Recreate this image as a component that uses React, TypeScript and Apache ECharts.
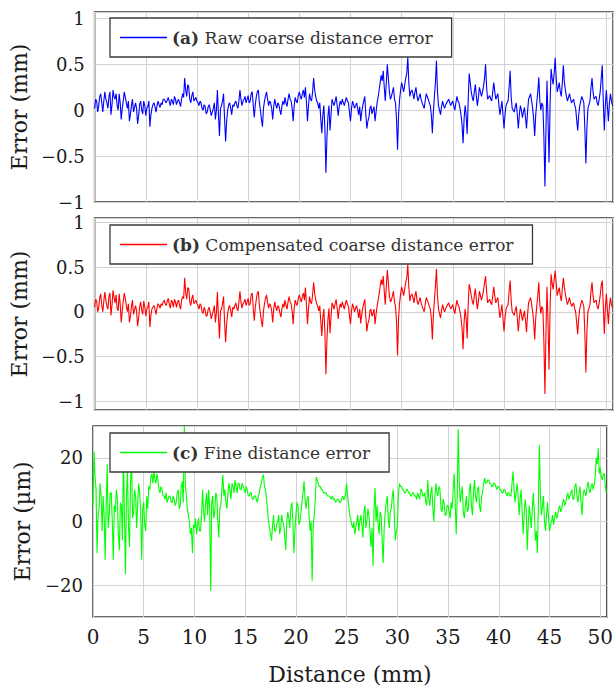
import React, { useEffect, useRef } from "react";
import * as echarts from "echarts";

// Sampling step of the distance axis (mm)
const STEP_MM = 0.1;

// (a) Raw coarse distance error (mm), one value every STEP_MM from 0 mm (10 per row = 1 mm)
const rawCoarse = [
  0.02, 0.12, 0.10, -0.02, 0.05, 0.15, 0.18, 0.08, -0.02, 0.10,
  0.20, 0.12, 0.08, 0.02, 0.15, 0.20, -0.05, 0.06, 0.22, 0.15,
  0.12, 0.18, 0.05, 0.00, 0.18, 0.08, -0.10, 0.02, 0.10, 0.20,
  0.14, 0.08, 0.02, 0.10, -0.12, -0.04, 0.05, 0.12, -0.02, 0.03,
  0.08, 0.02, -0.15, -0.06, 0.06, 0.10, 0.00, -0.04, 0.10, 0.05,
  -0.06, 0.02, 0.04, 0.10, -0.18, -0.05, 0.02, 0.06, 0.08, 0.04,
  -0.02, 0.05, 0.10, 0.06, 0.03, 0.08, 0.06, 0.12, 0.12, 0.10,
  0.08, 0.11, 0.14, 0.09, 0.05, 0.12, 0.10, 0.06, 0.15, 0.12,
  0.06, 0.10, 0.12, 0.08, 0.04, 0.12, 0.18, 0.14, 0.35, 0.22,
  0.15, 0.28, 0.25, 0.12, 0.08, 0.16, 0.20, 0.10, 0.12, 0.14,
  0.10, 0.08, 0.05, 0.10, 0.08, 0.02, 0.00, 0.06, 0.04, -0.04,
  -0.02, 0.04, 0.06, 0.00, -0.06, -0.02, 0.02, 0.08, -0.10, 0.00,
  0.22, -0.05, -0.28, 0.02, 0.05, 0.10, 0.18, -0.10, -0.34, -0.12,
  0.00, 0.06, 0.08, 0.02, -0.05, 0.06, 0.04, 0.08, 0.10, 0.05,
  0.02, 0.10, 0.22, 0.12, 0.05, 0.10, 0.12, 0.15, 0.08, 0.12,
  0.16, 0.08, 0.10, 0.18, 0.20, 0.05, -0.08, 0.06, 0.15, 0.20,
  0.22, 0.08, 0.00, -0.10, -0.18, 0.02, 0.10, 0.16, 0.20, 0.12,
  0.05, 0.10, 0.08, 0.02, -0.10, 0.04, 0.12, 0.06, 0.02, 0.08,
  0.06, 0.00, -0.05, 0.04, 0.10, 0.06, 0.14, 0.08, 0.04, 0.12,
  0.18, 0.12, 0.10, 0.02, -0.12, 0.05, 0.14, 0.10, 0.08, 0.16,
  0.20, 0.15, 0.12, 0.18, 0.22, 0.14, 0.25, 0.08, -0.12, 0.05,
  0.18, 0.12, 0.10, 0.20, 0.35, 0.22, 0.15, 0.10, 0.08, 0.02,
  0.08, -0.10, -0.25, -0.05, 0.05, -0.20, -0.68, -0.30, -0.06, 0.05,
  -0.22, -0.05, 0.12, 0.08, 0.05, 0.10, 0.15, 0.05, -0.06, 0.04,
  0.10, 0.06, 0.12, 0.08, 0.05, 0.10, 0.14, 0.10, 0.08, -0.02,
  -0.12, 0.02, 0.10, 0.06, 0.02, 0.05, 0.08, 0.02, -0.05, 0.04,
  -0.12, -0.02, 0.05, 0.10, 0.15, -0.05, -0.20, -0.12, -0.08, 0.02,
  0.05, -0.04, 0.00, 0.04, -0.12, -0.02, 0.08, 0.14, 0.22, 0.30,
  0.38, 0.32, 0.43, 0.25, 0.10, 0.30, 0.50, 0.35, 0.20, 0.12,
  0.15, 0.20, 0.25, 0.12, 0.08, -0.10, -0.43, -0.05, 0.12, 0.22,
  0.30, 0.25, 0.20, 0.28, 0.35, 0.40, 0.58, 0.30, 0.15, 0.20,
  0.22, 0.18, 0.12, 0.20, 0.25, 0.15, 0.10, 0.14, 0.18, 0.12,
  0.08, 0.05, 0.02, 0.10, 0.18, 0.15, 0.12, 0.08, 0.05, -0.05,
  -0.25, -0.02, 0.15, 0.30, 0.54, 0.20, 0.05, 0.00, -0.05, 0.04,
  0.10, 0.05, 0.02, 0.06, 0.08, 0.10, 0.12, 0.08, 0.05, 0.08,
  0.10, 0.04, 0.00, 0.08, 0.15, 0.10, 0.08, 0.02, -0.05, -0.15,
  -0.36, -0.10, 0.05, -0.05, -0.26, 0.10, 0.40, 0.30, 0.20, 0.14,
  0.10, 0.20, 0.28, 0.15, 0.05, 0.14, 0.25, 0.20, 0.15, 0.20,
  0.26, 0.35, 0.50, 0.25, 0.12, 0.14, 0.16, 0.12, 0.10, 0.20,
  0.30, 0.20, 0.12, 0.15, 0.18, 0.06, -0.05, 0.02, 0.10, -0.05,
  -0.20, -0.05, 0.05, 0.08, 0.10, 0.25, 0.43, 0.15, 0.02, 0.00,
  -0.02, 0.04, 0.08, -0.05, -0.20, -0.05, 0.05, 0.00, -0.08, -0.02,
  0.03, -0.08, -0.20, -0.02, 0.12, 0.15, 0.18, 0.10, 0.02, -0.10,
  -0.28, -0.05, 0.08, 0.20, 0.36, 0.10, 0.00, 0.08, 0.05, -0.30,
  -0.83, -0.20, 0.32, -0.10, -0.57, 0.05, 0.45, 0.35, 0.28, 0.40,
  0.57, 0.35, 0.20, 0.25, 0.30, 0.20, 0.15, 0.30, 0.49, 0.30,
  0.22, 0.15, 0.10, 0.14, 0.18, 0.12, 0.08, 0.10, 0.12, 0.06,
  0.02, -0.10, -0.22, -0.05, 0.05, 0.10, 0.15, 0.12, 0.08, -0.20,
  -0.58, -0.20, 0.02, 0.06, 0.10, 0.25, 0.35, 0.20, 0.12, 0.14,
  0.15, 0.08, 0.05, 0.12, 0.20, 0.35, 0.49, 0.10, -0.22, 0.05,
  0.22, 0.05, -0.12, 0.08, 0.18, 0.10, 0.05,
];

// (b) Compensated coarse distance error (mm)
const compCoarse = [
  0.05, 0.14, 0.12, 0.00, 0.04, 0.16, 0.20, 0.07, 0.00, 0.12,
  0.22, 0.13, 0.06, 0.03, 0.17, 0.21, -0.04, 0.07, 0.24, 0.16,
  0.10, 0.19, 0.04, 0.01, 0.20, 0.09, -0.12, 0.01, 0.12, 0.21,
  0.15, 0.07, 0.00, 0.09, -0.12, -0.05, 0.06, 0.13, -0.03, 0.02,
  0.07, 0.01, -0.16, -0.07, 0.05, 0.11, 0.02, -0.03, 0.12, 0.06,
  -0.05, 0.03, 0.05, 0.11, -0.17, -0.04, 0.03, 0.05, 0.07, 0.03,
  -0.03, 0.04, 0.09, 0.07, 0.04, 0.09, 0.07, 0.11, 0.13, 0.09,
  0.07, 0.12, 0.15, 0.08, 0.04, 0.13, 0.11, 0.05, 0.14, 0.11,
  0.05, 0.11, 0.13, 0.07, 0.03, 0.13, 0.17, 0.15, 0.38, 0.21,
  0.14, 0.27, 0.26, 0.11, 0.07, 0.15, 0.19, 0.09, 0.11, 0.13,
  0.09, 0.07, 0.03, 0.09, 0.07, 0.00, -0.02, 0.05, 0.02, -0.05,
  -0.04, 0.03, 0.05, -0.01, -0.08, -0.03, 0.01, 0.07, -0.12, -0.01,
  0.22, -0.06, -0.30, 0.01, 0.03, 0.09, 0.17, -0.12, -0.34, -0.13,
  -0.02, 0.05, 0.07, 0.01, -0.06, 0.05, 0.03, 0.07, 0.10, 0.04,
  0.01, 0.11, 0.23, 0.11, 0.04, 0.09, 0.11, 0.14, 0.07, 0.11,
  0.15, 0.07, 0.09, 0.19, 0.21, 0.04, -0.10, 0.05, 0.14, 0.21,
  0.23, 0.07, -0.02, -0.11, -0.17, 0.01, 0.09, 0.15, 0.19, 0.11,
  0.04, 0.09, 0.07, 0.01, -0.12, 0.03, 0.11, 0.05, 0.01, 0.07,
  0.05, -0.01, -0.06, 0.03, 0.09, 0.05, 0.13, 0.07, 0.03, 0.11,
  0.17, 0.11, 0.09, 0.01, -0.14, 0.04, 0.13, 0.09, 0.07, 0.15,
  0.19, 0.14, 0.11, 0.17, 0.21, 0.13, 0.27, 0.07, -0.14, 0.04,
  0.17, 0.11, 0.09, 0.19, 0.33, 0.21, 0.14, 0.09, 0.06, 0.01,
  0.07, -0.11, -0.27, -0.06, 0.03, -0.22, -0.70, -0.32, -0.08, 0.04,
  -0.24, -0.06, 0.10, 0.07, 0.03, 0.09, 0.14, 0.04, -0.08, 0.03,
  0.09, 0.05, 0.11, 0.07, 0.03, 0.09, 0.13, 0.09, 0.06, -0.04,
  -0.14, 0.01, 0.09, 0.05, 0.00, 0.04, 0.07, 0.01, -0.07, 0.03,
  -0.13, -0.03, 0.04, 0.09, 0.14, -0.06, -0.22, -0.13, -0.10, 0.01,
  0.03, -0.05, -0.02, 0.03, -0.14, -0.03, 0.06, 0.13, 0.20, 0.28,
  0.36, 0.30, 0.40, 0.23, 0.08, 0.28, 0.47, 0.33, 0.18, 0.11,
  0.13, 0.18, 0.23, 0.11, 0.06, -0.12, -0.49, -0.07, 0.10, 0.20,
  0.28, 0.23, 0.18, 0.26, 0.33, 0.38, 0.53, 0.28, 0.12, 0.18,
  0.20, 0.16, 0.10, 0.18, 0.23, 0.13, 0.08, 0.12, 0.16, 0.10,
  0.06, 0.03, 0.00, 0.08, 0.16, 0.13, 0.10, 0.06, 0.03, -0.07,
  -0.31, -0.04, 0.13, 0.28, 0.48, 0.18, 0.03, -0.02, -0.07, 0.02,
  0.08, 0.03, 0.00, 0.04, 0.06, 0.08, 0.10, 0.06, 0.03, 0.06,
  0.08, 0.02, -0.02, 0.06, 0.13, 0.08, 0.06, 0.00, -0.07, -0.18,
  -0.42, -0.12, 0.03, -0.07, -0.30, 0.08, 0.31, 0.26, 0.18, 0.12,
  0.08, 0.18, 0.26, 0.13, 0.03, 0.12, 0.23, 0.18, 0.13, 0.18,
  0.24, 0.33, 0.40, 0.23, 0.10, 0.12, 0.14, 0.10, 0.08, 0.18,
  0.28, 0.18, 0.10, 0.13, 0.16, 0.04, -0.07, 0.00, 0.08, -0.07,
  -0.22, -0.07, 0.03, 0.06, 0.08, 0.23, 0.35, 0.13, 0.00, -0.02,
  -0.04, 0.02, 0.06, -0.07, -0.22, -0.07, 0.03, -0.02, -0.10, -0.04,
  0.01, -0.10, -0.23, -0.04, 0.10, 0.13, 0.16, 0.08, 0.00, -0.12,
  -0.31, -0.07, 0.06, 0.18, 0.33, 0.08, -0.02, 0.06, 0.03, -0.35,
  -0.92, -0.22, 0.28, -0.12, -0.65, 0.03, 0.42, 0.32, 0.25, 0.36,
  0.46, 0.32, 0.18, 0.23, 0.27, 0.18, 0.12, 0.26, 0.38, 0.27,
  0.20, 0.13, 0.08, 0.12, 0.16, 0.10, 0.06, 0.08, 0.10, 0.04,
  0.00, -0.12, -0.25, -0.07, 0.03, 0.08, 0.13, 0.10, 0.06, -0.24,
  -0.68, -0.23, 0.00, 0.04, 0.08, 0.23, 0.33, 0.18, 0.10, 0.12,
  0.13, 0.06, 0.03, 0.10, 0.18, 0.30, 0.35, 0.08, -0.25, 0.03,
  0.20, 0.03, -0.14, 0.06, 0.16, 0.08, 0.04,
];

// (c) Fine distance error (µm)
const fineErr = [
  5, 22, 14, 10, -10, 2, 4, 12, 8, -3,
  8, 2, -12, 5, 18, -2, 2, 9, 9, 0,
  -12, 5, 3, 10, 7, -4, -9, 6, 5, -6,
  23, 2, -16.6, 8, 16, -2, -8, 12, 20, 1,
  3, 10, 8, -2, 5, 12, 9, 3, -12, 4,
  6, -1, -3, 8, 4, 11, 10, 14, 15, 12,
  16, 13, 12, 15, 13, 10, 9, 11, 10, 8,
  8, 7, 9, 6, 7, 8, 8, 6, 6, 8,
  7, 5, 6, 9, 10, 4, 5, 11, 12.6, 6,
  30, 12, 8, 4, 2, 0, -4, -2, -10, -1,
  -2, 1, -4, -1, 1, -3, -3, 2, 10, 3,
  0, 6, 9, 2, 10, 4, -21.8, 6, 8, 1,
  3, 9, 8, 0, -5, 4, 5, 10, 14.7, 8,
  10, 6, 4, 9, 12, 10, 7, 12, 11, 9,
  13, 11, 9, 12, 12, 10, 10, 12, 11, 10,
  9, 11, 10, 8, 8, 9, 9, 7, 7, 8,
  8, 7, 6, 8, 9, 11, 12, 14, 14.7, 11,
  10, 7, 4, 0, -2, -4, -6, -1, 2, -3,
  -3, -1, 0, 2, -4, -2, 2, 0, -1, -5,
  -9, 0, 3, 1, -2, 4, 6, 0, -10, -3,
  2, 6, 5, -1, 0, 3, 6, 9, 12.6, 7,
  4, 7, 8, 2, -3, 0, -18.6, -2, 2, 6,
  14, 13, 12, 11, 11, 10, 10, 9, 9, 9,
  9, 8, 8, 8, 7.5, 7, 8, 7, 7, 6,
  6.5, 7, 7, 6, 6, 7, 8, 7, 7, 9,
  12, 8, 5, 2, 1, -1, -2, 0, -4, -2,
  0, 2, -3, 0, 2, -1, -5, 3, 5, -2,
  0, 4, 2, -3, -8, -2, -14, 4, 10.5, 0,
  5, -1, -4, 3, 2, -6, -13, -2, 3, 6,
  8, 1, -2, 3, 4, 8, 10, 2, -6, -3,
  -2, 8, 12, 11, 11, 10, 10, 9, 9, 10,
  10, 9, 9, 8, 8, 9, 9, 8, 8, 7,
  9, 8, 7, 10, 10, 8, 8, 9, 6, 5,
  13, 7, 5, 9, 11, 4, 0, 8, 12, 9,
  8, 11, 10, 4, 3, 7, 6, 2, 2, 5,
  5, 3, 1, 6, 4, 10, 15, 6, -4, 8,
  29, 12, 6, 9, 11, 3, 1, 5, 8, 3,
  4, 10, 12, 5, 2, 9, 13, 8, 6, 10,
  11, 5, 3, 8, 9, 12, 13.6, 12, 12, 13,
  13, 12, 12, 11, 11, 12, 12, 11, 10, 11,
  11, 10, 10, 9, 9, 10, 10, 9, 8, 9,
  9, 8, 8, 12, 15.7, 10, 6, 9, 12, 8,
  2, 7, 10, 3, -4, 2, 7, 4, -9, -1,
  5, 2, -2, 4, 9, 3, -6, -3, -10, 5,
  24, 8, 2, 5, 8, 0, -3, 2, 6, 1,
  -3, -1, 0, 2, -1, 1, 3, 1, 2, 4,
  5, 3, 4, 6, 7, 5, 6, 8, 9, 7,
  8, 9, 10, 7, 7, 11, 12, 8, 6, 9,
  11, 6, 2, 8, 10, 9, 8, 11, 12.5, 10,
  9, 11, 12, 10, 11.5, 14, 20, 18, 23, 15,
  17, 14, 13, 15, 15, 11, 9,
];

const xTicks = [0, 5, 10, 15, 20, 25, 30, 35, 40, 45, 50];
const yTicksMm = [-1, -0.5, 0, 0.5, 1];
const yTicksUm = [-20, 0, 20];

const seriesNames = [
  "(a) Raw coarse distance error",
  "(b) Compensated coarse distance error",
  "(c) Fine distance error",
];
const seriesColors = ["#0000ff", "#ff0000", "#00ff00"];
const yNames = ["Error (mm)", "Error (mm)", "Error (µm)"];
const xName = "Distance (mm)";

const FONT = "DejaVu Serif";
const TEXT = "#1a1a1a";

const fmtTick = (ticks: number[]) => (v: number) =>
  ticks.some((t) => Math.abs(t - v) < 1e-6) ? String(v).replace("-", "\u2212") : "";

export default function App() {
  const ref = useRef<HTMLDivElement>(null);

  useEffect(() => {
    if (!ref.current) return;
    const chart = echarts.init(ref.current, null, { renderer: "svg" });

    const grids = [
      { left: 93, top: 12, width: 520, height: 190 },
      { left: 93, top: 218, width: 520, height: 192 },
      { left: 93, top: 426, width: 520, height: 191 },
    ];
    const yRanges = [
      { min: -1, max: 1.07, step: 0.5, ticks: yTicksMm },
      { min: -1.1, max: 1.05, step: 0.5, ticks: yTicksMm },
      { min: -30, max: 30, step: 20, ticks: yTicksUm },
    ];
    const legendTops = [18, 225, 433];
    const datasets = [rawCoarse, compCoarse, fineErr];

    const splitLine = { show: true, lineStyle: { color: "#d2d2d2", width: 1 } };

    chart.setOption({
      animation: false,
      backgroundColor: "#ffffff",
      grid: grids.map((g) => ({
        ...g,
        show: true,
        borderColor: "#3a3a3a",
        borderWidth: 1.5,
        backgroundColor: "transparent",
      })),
      xAxis: grids.map((_, i) => ({
        type: "value",
        gridIndex: i,
        min: 0,
        max: 50.65,
        minInterval: 5,
        maxInterval: 5,
        axisLine: { show: false },
        axisTick: { show: false },
        splitLine,
        axisLabel:
          i === 2
            ? {
                show: true,
                formatter: fmtTick(xTicks),
                fontFamily: FONT,
                fontSize: 20,
                color: TEXT,
                margin: 10,
              }
            : { show: false },
        name: i === 2 ? xName : "",
        nameLocation: "middle",
        nameGap: 46,
        nameTextStyle: { fontFamily: FONT, fontSize: 22, color: TEXT },
      })),
      yAxis: grids.map((_, i) => ({
        type: "value",
        gridIndex: i,
        min: yRanges[i].min,
        max: yRanges[i].max,
        minInterval: yRanges[i].step,
        maxInterval: yRanges[i].step,
        axisLine: { show: false },
        axisTick: { show: false },
        splitLine,
        axisLabel: {
          formatter: fmtTick(yRanges[i].ticks),
          fontFamily: FONT,
          fontSize: 18,
          color: TEXT,
          margin: 10,
        },
        name: yNames[i],
        nameLocation: "middle",
        nameGap: 60,
        nameTextStyle: { fontFamily: FONT, fontSize: 22, color: TEXT },
      })),
      legend: grids.map((_, i) => ({
        data: [seriesNames[i]],
        left: 110,
        top: legendTops[i],
        orient: "horizontal",
        padding: [11, 19, 11, 10],
        icon: "rect",
        itemWidth: 47,
        itemHeight: 1.5,
        backgroundColor: "#ffffff",
        borderColor: "#3a3a3a",
        borderWidth: 1.3,
        borderRadius: 0,
        selectedMode: false,
        formatter: (n: string) => n.replace(/^(\([a-z]\))/, "{b|$1}"),
        textStyle: {
          fontFamily: FONT,
          fontSize: 17,
          color: "#333",
          rich: {
            b: { fontFamily: FONT, fontSize: 17, fontWeight: "bold", color: "#333" },
          },
        },
      })),
      series: datasets.map((d, i) => ({
        type: "line",
        name: seriesNames[i],
        xAxisIndex: i,
        yAxisIndex: i,
        symbol: "none",
        showSymbol: false,
        color: seriesColors[i],
        lineStyle: { color: seriesColors[i], width: 1.1 },
        data: d.map((v, k) => [Math.round(k * STEP_MM * 10) / 10, v]),
        z: 3,
      })),
    });

    return () => chart.dispose();
  }, []);

  return (
    <div
      ref={ref}
      style={{ position: "absolute", left: 0, top: 0, width: 616, height: 690 }}
    />
  );
}
